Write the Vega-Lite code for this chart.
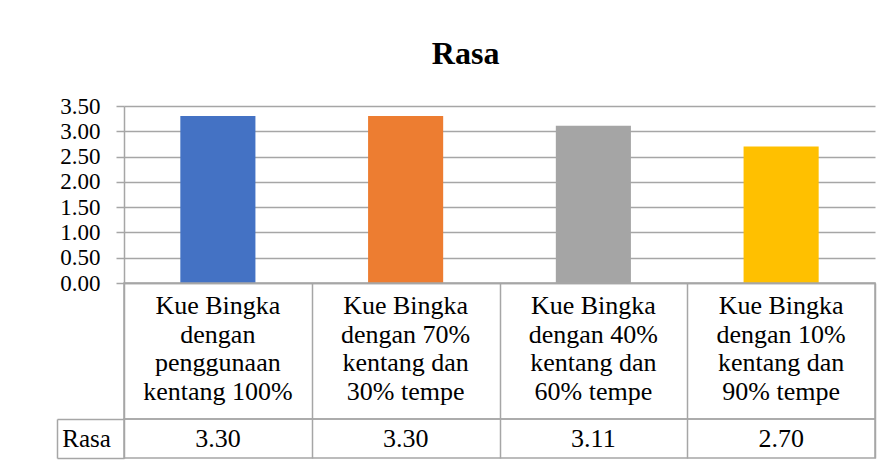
{
  "$schema": "https://vega.github.io/schema/vega-lite/v6.json",
  "padding": {"left": 55, "top": 38, "right": 10, "bottom": 0},
  "background": "white",
  "config": {"font": "Liberation Serif"},
  "title": {"text": "Rasa", "font": "Liberation Serif", "fontSize": 32, "fontWeight": "bold", "color": "#000000", "anchor": "middle", "offset": 24},
  "data": {"values": [
    {"kategori": "Kue Bingka\ndengan\npenggunaan\nkentang 100%", "rasa": 3.30, "baris": "Rasa"},
    {"kategori": "Kue Bingka\ndengan 70%\nkentang dan\n30% tempe", "rasa": 3.30, "baris": "Rasa"},
    {"kategori": "Kue Bingka\ndengan 40%\nkentang dan\n60% tempe", "rasa": 3.11, "baris": "Rasa"},
    {"kategori": "Kue Bingka\ndengan 10%\nkentang dan\n90% tempe", "rasa": 2.70, "baris": "Rasa"}
  ]},
  "spacing": 0,
  "bounds": "flush",
  "vconcat": [
    {
      "width": 751, "height": 177,
      "view": {"stroke": null},
      "mark": {"type": "bar"},
      "encoding": {
        "x": {"field": "kategori", "type": "nominal", "sort": null,
              "scale": {"paddingInner": 0.6, "paddingOuter": 0.3},
              "axis": {"labels": false, "ticks": false, "domain": true, "domainColor": "#a6a6a6", "domainWidth": 1.5, "title": null}},
        "y": {"field": "rasa", "type": "quantitative",
              "scale": {"domain": [0, 3.5], "nice": false},
              "axis": {"values": [0, 0.5, 1, 1.5, 2, 2.5, 3, 3.5], "format": ".2f", "title": null,
                       "labelFont": "Liberation Serif", "labelFontSize": 23, "labelColor": "#000000",
                       "tickSize": 8, "tickColor": "#a6a6a6", "tickWidth": 1.5, "gridColor": "#a6a6a6", "gridWidth": 1.5,
                       "domain": true, "domainColor": "#a6a6a6", "domainWidth": 1.5, "labelPadding": 16}},
        "color": {"field": "kategori", "type": "nominal", "sort": null, "legend": null,
                  "scale": {"range": ["#4472C4", "#ED7D31", "#A5A5A5", "#FFC000"]}}
      }
    },
    {
      "width": 751, "height": 136,
      "view": {"stroke": "#a6a6a6", "strokeWidth": 1.5},
      "mark": {"type": "text", "lineBreak": "\n", "font": "Liberation Serif", "fontSize": 26, "lineHeight": 28.5, "baseline": "middle", "color": "#000000", "dy": -45},
      "encoding": {
        "x": {"field": "kategori", "type": "nominal", "sort": null,
              "scale": {"paddingInner": 0, "paddingOuter": 0},
              "axis": {"grid": true, "tickBand": "extent", "labels": false, "ticks": false, "domain": false, "title": null, "gridColor": "#a6a6a6", "gridWidth": 1.5}},
        "text": {"field": "kategori"}
      }
    },
    {
      "width": 751, "height": 39,
      "view": {"stroke": "#a6a6a6", "strokeWidth": 1.5},
      "mark": {"type": "text", "font": "Liberation Serif", "fontSize": 26, "baseline": "middle", "color": "#000000"},
      "encoding": {
        "x": {"field": "kategori", "type": "nominal", "sort": null,
              "scale": {"paddingInner": 0, "paddingOuter": 0},
              "axis": {"grid": true, "tickBand": "extent", "labels": false, "ticks": false, "domain": false, "title": null, "gridColor": "#a6a6a6", "gridWidth": 1.5}},
        "y": {"field": "baris", "type": "nominal",
              "scale": {"paddingInner": 0, "paddingOuter": 0},
              "axis": {"title": null, "domain": true, "domainColor": "#a6a6a6", "domainWidth": 1.5, "offset": 67,
                       "tickBand": "extent", "tickSize": -67, "tickColor": "#a6a6a6", "tickWidth": 1.5,
                       "labelFont": "Liberation Serif", "labelFontSize": 25, "labelAlign": "center", "labelBaseline": "middle",
                       "labelPadding": 38, "labelColor": "#000000"}},
        "text": {"field": "rasa", "type": "quantitative", "format": ".2f"}
      }
    }
  ]
}
